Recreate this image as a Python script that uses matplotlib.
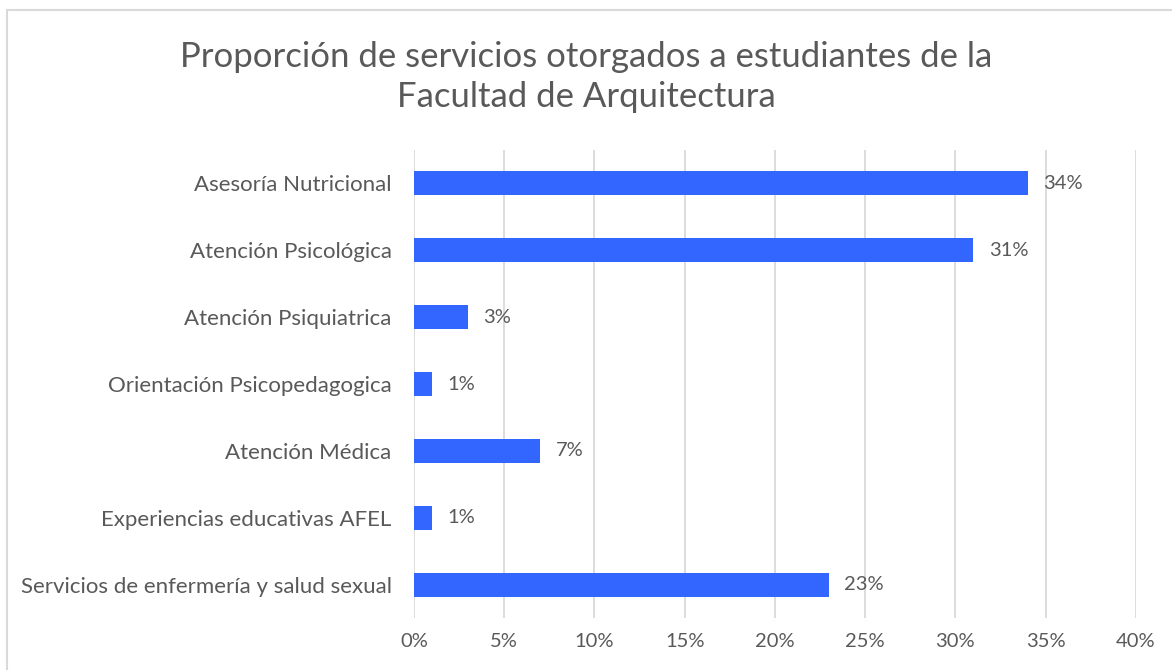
import matplotlib
matplotlib.use("Agg")
import matplotlib.pyplot as plt
from matplotlib.patches import Rectangle

# data
categories = [
    "Asesoría Nutricional",
    "Atención Psicológica",
    "Atención Psiquiatrica",
    "Orientación Psicopedagogica",
    "Atención Médica",
    "Experiencias educativas AFEL",
    "Servicios de enfermería y salud sexual",
]
values = [34, 31, 3, 1, 7, 1, 23]
xticks = [0, 5, 10, 15, 20, 25, 30, 35, 40]
xtick_labels = [f"{t}%" for t in xticks]

text_color = "#595959"
bar_color = "#3366FF"

plt.rcParams["font.family"] = ["Lato", "DejaVu Sans"]

fig = plt.figure(figsize=(11.72, 6.7), dpi=100)
ax = fig.add_axes([0.3532, 0.0776, 0.6160, 0.6985])

# outer chart border (Excel-like)
fig.patches.append(Rectangle((7 / 1172, -0.05), 1.1, 1 - 10 / 670 + 0.05,
                             transform=fig.transFigure, fill=False,
                             edgecolor="#D9D9D9", linewidth=1.5))

y = list(range(len(categories)))
ax.barh(y, values, height=0.36, color=bar_color, zorder=3)
ax.set_ylim(len(categories) - 0.5, -0.5)
ax.set_xlim(0, 40)

for yi, v in zip(y, values):
    ax.text(v + 0.85, yi, f"{v}%", va="center", ha="left",
            fontsize=14.5, color=text_color)

ax.set_yticks(y)
ax.set_yticklabels(categories, fontsize=16, color=text_color)
ax.set_xticks(xticks)
ax.set_xticklabels(xtick_labels, fontsize=14.5, color=text_color)
ax.tick_params(axis="both", length=0, pad=11)
ax.tick_params(axis="y", pad=16)

ax.grid(axis="x", color="#D9D9D9", linewidth=1.3, zorder=0)
for s in ax.spines.values():
    s.set_visible(False)

fig.text(0.5, 0.885, "Proporción de servicios otorgados a estudiantes de la\nFacultad de Arquitectura",
         ha="center", va="center", fontsize=25, color=text_color, linespacing=1.3)

fig.savefig("out.png", dpi=100)
